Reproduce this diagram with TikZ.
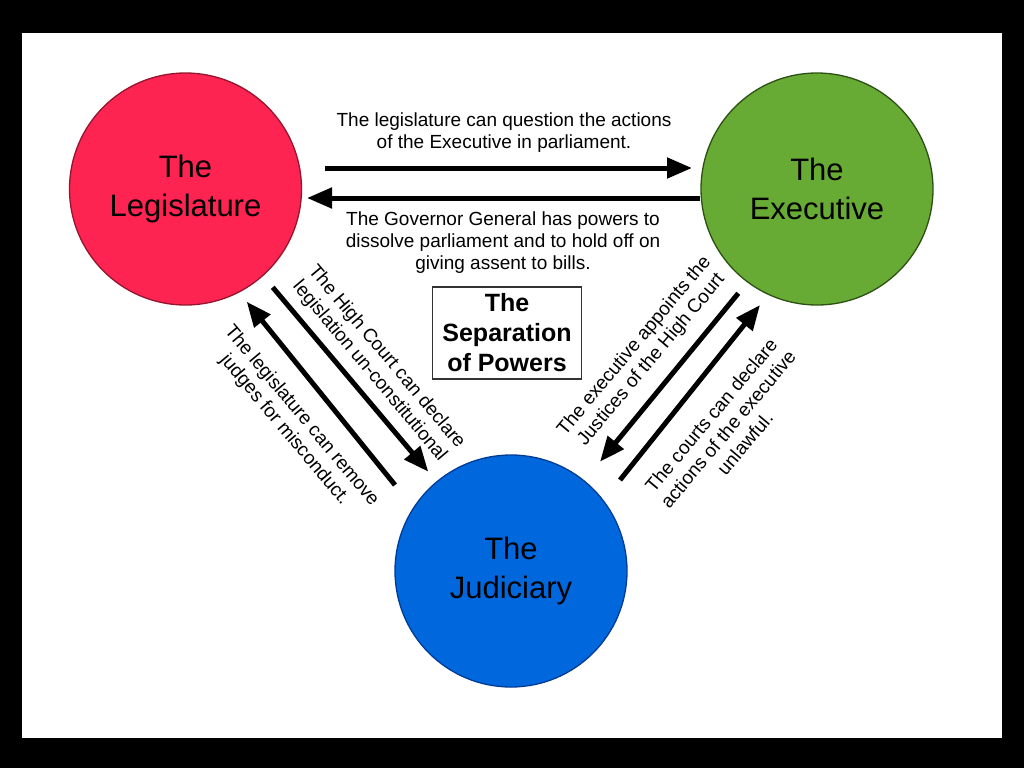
\documentclass[tikz,border=0pt]{standalone}
\usepackage{fontspec}
\setmainfont{Liberation Sans}
\usetikzlibrary{arrows.meta}
\definecolor{legred}{RGB}{253,36,82}
\definecolor{legedge}{RGB}{150,20,45}
\definecolor{exegreen}{RGB}{103,171,53}
\definecolor{exeedge}{RGB}{45,80,20}
\definecolor{judblue}{RGB}{0,103,221}
\definecolor{judedge}{RGB}{0,60,150}
\tikzset{
  power/.style={circle, minimum size=232pt, inner sep=0pt, line width=1.3pt,
    align=center, font=\fontsize{31}{38.5}\selectfont},
  lab/.style={align=center, inner sep=0pt, font=\fontsize{19}{22}\selectfont},
  arr/.style={line width=5pt, -{Triangle[length=25pt,width=20pt]}},
  titlebox/.style={draw=black!80, line width=1.2pt, minimum width=149pt, minimum height=92pt,
    align=center, inner sep=0pt, font=\bfseries\fontsize{25}{30}\selectfont}
}
\begin{document}
\begin{tikzpicture}[x=1pt,y=-1pt]
\useasboundingbox (0,0) rectangle (1024,768);
\fill[black] (0,0) rectangle (1024,768);
\fill[white] (22,33) rectangle (1002,738);

\node[power, fill=legred, draw=legedge] (leg) at (185.5,189) {The\\Legislature};
\node[power, fill=exegreen, draw=exeedge] (exe) at (817,189) {The\\Executive};
\node[power, fill=judblue, draw=judedge] (jud) at (511,571) {The\\Judiciary};

\node[titlebox] (title) at (507,333) {The\\Separation\\of Powers};

% arrow end points
\coordinate (a1s) at (325,168);
\coordinate (a1e) at (692,168);
\coordinate (a2s) at (700,198);
\coordinate (a2e) at (307,198);
\coordinate (a3s) at (272.7,287.3);
\coordinate (a3e) at (428.3,471.7);
\coordinate (a4s) at (395,485);
\coordinate (a4e) at (246.7,301.7);
\coordinate (a5s) at (738.3,293.3);
\coordinate (a5e) at (600,461.7);
\coordinate (a6s) at (620,480);
\coordinate (a6e) at (760,305);

\draw[arr] (a1s) -- (a1e);
\draw[arr] (a2s) -- (a2e);
\draw[arr] (a3s) -- (a3e);
\draw[arr] (a4s) -- (a4e);
\draw[arr] (a5s) -- (a5e);
\draw[arr] (a6s) -- (a6e);

\node[lab] (t1) at (504,133) {The legislature can question the actions\\of the Executive in parliament.};
\node[lab] (t2) at (503,243) {The Governor General has powers to\\dissolve parliament and to hold off on\\giving assent to bills.};
\node[lab, rotate=-50] (t3) at (378,364) {The High Court can declare\\legislation un-constitutional};
\node[lab, rotate=-50] (t4) at (293,423) {The legislature can remove\\judges for misconduct.};
\node[lab, rotate=50] (t5) at (643,353) {The executive appoints the\\Justices of the High Court};
\node[lab, rotate=50] (t6) at (728,429) {The courts can declare\\actions of the executive\\unlawful.};
\end{tikzpicture}
\end{document}
